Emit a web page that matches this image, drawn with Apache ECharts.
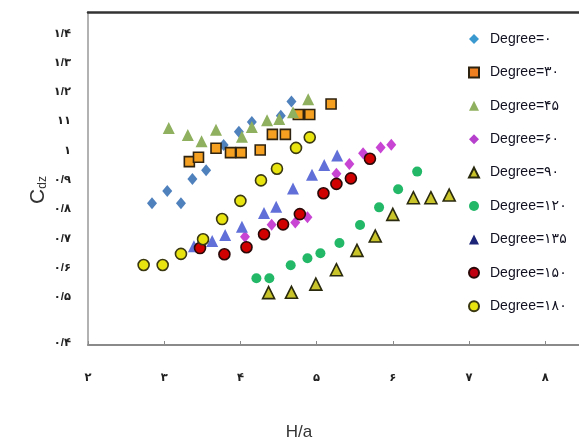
<!DOCTYPE html>
<html><head><meta charset="utf-8">
<script src="https://cdn.jsdelivr.net/npm/echarts@6/dist/echarts.min.js"></script>
<style>html,body{margin:0;padding:0;background:#fff;overflow:hidden}#c{width:579px;height:443px}</style>
</head><body><div id="c"></div>
<script>
// ---- data ----
const seriesNames = ['Degree=۰','Degree=۳۰','Degree=۴۵','Degree=۶۰','Degree=۹۰','Degree=۱۲۰','Degree=۱۳۵','Degree=۱۵۰','Degree=۱۸۰'];
const deg0 = [[2.84,0.820],[3.04,0.862],[3.22,0.820],[3.37,0.903],[3.55,0.933],[3.78,1.019],[3.98,1.064],[4.15,1.097],[4.53,1.119],[4.67,1.167]];
const deg30 = [[3.33,0.962],[3.45,0.977],[3.68,1.008],[3.87,0.993],[4.01,0.993],[4.26,1.002],[4.42,1.055],[4.59,1.055],[4.76,1.123],[4.91,1.123],[5.19,1.159]];
const deg45 = [[3.06,1.077],[3.31,1.053],[3.49,1.032],[3.68,1.071],[4.02,1.047],[4.15,1.080],[4.35,1.103],[4.51,1.108],[4.69,1.131],[4.89,1.175]];
const deg60 = [[4.06,0.706],[4.41,0.747],[4.72,0.754],[4.88,0.772],[5.26,0.921],[5.43,0.954],[5.61,0.991],[5.84,1.010],[5.98,1.020]];
const deg90 = [[4.37,0.515],[4.67,0.516],[4.99,0.544],[5.26,0.593],[5.53,0.659],[5.77,0.708],[6.00,0.782],[6.27,0.839],[6.50,0.839],[6.74,0.848]];
const deg120 = [[4.21,0.564],[4.38,0.564],[4.66,0.608],[4.88,0.632],[5.05,0.649],[5.30,0.684],[5.57,0.746],[5.82,0.806],[6.07,0.868],[6.32,0.928]];
const deg135 = [[3.39,0.673],[3.63,0.691],[3.80,0.712],[4.02,0.740],[4.31,0.787],[4.47,0.808],[4.69,0.870],[4.94,0.917],[5.10,0.951],[5.27,0.983]];
const deg150 = [[3.47,0.667],[3.79,0.646],[4.08,0.670],[4.31,0.714],[4.56,0.748],[4.78,0.783],[5.09,0.854],[5.26,0.886],[5.45,0.905],[5.70,0.972]];
const deg180 = [[2.73,0.609],[2.98,0.609],[3.22,0.647],[3.51,0.697],[3.76,0.766],[4.00,0.828],[4.27,0.898],[4.48,0.938],[4.73,1.009],[4.91,1.045]];
const xTickValues = [2,3,4,5,6,7,8];
const xTickLabels = ['۲','۳','۴','۵','۶','۷','۸'];
const yTickValues = [0.343,0.5,0.6,0.7,0.8,0.9,1.0,1.1,1.2,1.3,1.4];
const yTickLabels = ['۰/۴','۰/۵','۰/۶','۰/۷','۰/۸','۰/۹','۱','۱۱','۱/۲','۱/۳','۱/۴'];
const allData = [deg0,deg30,deg45,deg60,deg90,deg120,deg135,deg150,deg180];

// ---- styles ----
const styles = [
  {symbol:'diamond', size:[10,12], color:'#4f81bd', border:null},
  {symbol:'rect', size:10, color:'#f5a020', border:'#2e2210'},
  {symbol:'triangle', size:12, color:'#8fb05e', border:null},
  {symbol:'diamond', size:[10,12], color:'#c845d4', border:null},
  {symbol:'triangle', size:12, color:'#c9c42a', border:'#2a2a0e'},
  {symbol:'circle', size:10, color:'#22b868', border:null},
  {symbol:'triangle', size:12, color:'#6070d8', border:null},
  {symbol:'circle', size:11, color:'#d00000', border:'#2a0808'},
  {symbol:'circle', size:11, color:'#e8e410', border:'#3a3810'}
];
const legendColors = ['#3a9ad0','#f08020','#8fb05e','#b640cc','#c9c42a','#22b868','#1c2478','#c00010','#e8e410'];
const lab = '"Liberation Sans","DejaVu Sans",sans-serif';

const series = allData.map((d,i)=>({
  name: seriesNames[i], type:'scatter', data:d,
  symbol: styles[i].symbol, symbolSize: styles[i].size,
  itemStyle: {color: styles[i].color, borderColor: styles[i].border || styles[i].color, borderWidth: styles[i].border ? 1.6 : 0, opacity:1},
  xAxisIndex:0, yAxisIndex:0
}));

const chart = echarts.init(document.getElementById('c'), null, {renderer:'canvas'});
chart.setOption({
  animation:false,
  backgroundColor:'#fff',
  grid:{left:88, width:533.4, top:12, height:333, containLabel:false, outerBoundsMode:'none'},
  xAxis:[{
    type:'value', min:2, max:9, interval:1, position:'bottom',
    axisLine:{show:true, onZero:false, lineStyle:{color:'#8a8a8a', width:2}},
    axisTick:{show:true, inside:true, length:4, customValues:xTickValues, lineStyle:{color:'#8a8a8a'}},
    axisLabel:{customValues:xTickValues, formatter:(v)=>xTickLabels[xTickValues.indexOf(v)]||'', margin:27, fontSize:11.5, fontWeight:'bold', color:'#222', fontFamily:lab},
    splitLine:{show:false}
  },{
    type:'value', min:2, max:9, position:'top',
    axisLine:{show:true, onZero:false, lineStyle:{color:'#333', width:2.5}},
    axisTick:{show:false}, axisLabel:{show:false}, splitLine:{show:false}
  }],
  yAxis:[{
    type:'value', min:0.336, max:1.473,
    axisLine:{show:true, onZero:false, lineStyle:{color:'#999', width:1.5}},
    axisTick:{show:false},
    axisLabel:{customValues:yTickValues, formatter:(v)=>{const k=yTickValues.findIndex(t=>Math.abs(t-v)<1e-6);return k>=0?yTickLabels[k]:'';}, margin:17, fontSize:11.5, fontWeight:'bold', color:'#222', fontFamily:lab},
    splitLine:{show:false}
  }],
  legend:{
    orient:'vertical', left:463, top:27, itemWidth:10, itemHeight:10, itemGap:19.4,
    textStyle:{fontSize:14, color:'#101020', fontFamily:lab, lineHeight:14, padding:[0,0,0,6]},
    data: seriesNames.map((n,i)=>({name:n, itemStyle:{color:legendColors[i]}}))
  },
  graphic:[
    {type:'text', x:38, y:190, rotation:Math.PI/2, style:{text:'{c|C}{s|dz}', rich:{c:{fontSize:21, fontFamily:lab, fill:'#333'}, s:{fontSize:12, fontFamily:lab, fill:'#333', padding:[9,0,0,0]}}, align:'center', verticalAlign:'middle'}},
    {type:'text', x:299, y:432, style:{text:'H/a', fontSize:17, fontFamily:lab, fill:'#333', align:'center', verticalAlign:'middle'}}
  ],
  series: series
});
</script></body></html>
